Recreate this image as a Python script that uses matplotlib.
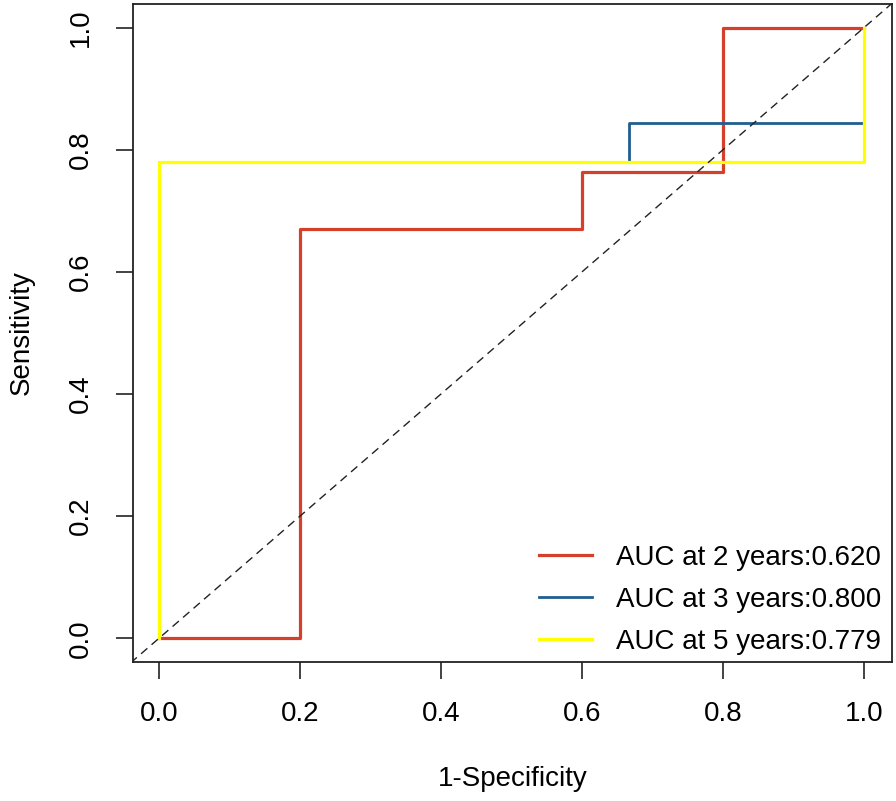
import matplotlib
matplotlib.use("Agg")
import matplotlib.pyplot as plt

plt.rcParams['font.family'] = ['Liberation Sans', 'DejaVu Sans']

# ROC curves (1-specificity, sensitivity)
fpr_2y = [0.0, 0.2, 0.2, 0.6, 0.6, 0.8, 0.8, 1.0]
tpr_2y = [0.0, 0.0, 0.67, 0.67, 0.763, 0.763, 1.0, 1.0]
fpr_3y = [0.0, 0.0, 0.667, 0.667, 1.0, 1.0]
tpr_3y = [0.0, 0.78, 0.78, 0.844, 0.844, 1.0]
fpr_5y = [0.0, 0.0, 1.0, 1.0]
tpr_5y = [0.0, 0.78, 0.78, 1.0]
labels = ["AUC at 2 years:0.620", "AUC at 3 years:0.800", "AUC at 5 years:0.779"]
colors = ["#D5402B", "#1F5F8F", "#FFFF00"]
ticks = [0.0, 0.2, 0.4, 0.6, 0.8, 1.0]

fig = plt.figure(figsize=(8.96, 8.01), dpi=100)
ax = fig.add_axes([0.1484, 0.1735, 0.8471, 0.8215])

ax.plot(fpr_2y, tpr_2y, color=colors[0], lw=2.3, label=labels[0])
ax.plot(fpr_3y, tpr_3y, color=colors[1], lw=2.0, label=labels[1])
ax.plot(fpr_5y, tpr_5y, color=colors[2], lw=2.3, label=labels[2])
ax.plot([-0.1, 1.1], [-0.1, 1.1], color="#222222", lw=1.0, ls=(0, (6, 4)))

ax.set_xlim(-0.037, 1.04)
ax.set_ylim(-0.039, 1.039)
ax.set_xticks(ticks)
ax.set_yticks(ticks)
ax.set_xticklabels([f"{t:.1f}" for t in ticks], fontsize=20)
ax.set_yticklabels([f"{t:.1f}" for t in ticks], fontsize=20, rotation=90, va="center")
ax.tick_params(length=12, width=1.2, pad=16, color="#222222")
for s in ax.spines.values():
    s.set_linewidth(1.3)
    s.set_color("#222222")

ax.set_xlabel("1-Specificity", fontsize=20, labelpad=28)
ax.set_ylabel("Sensitivity", fontsize=20, labelpad=24)

ax.legend(loc="lower right", frameon=False, fontsize=20, handlelength=1.9,
          handletextpad=0.85, labelspacing=0.57, borderaxespad=0.0,
          bbox_to_anchor=(1.0, -0.006))

fig.savefig("out.png", dpi=100)
